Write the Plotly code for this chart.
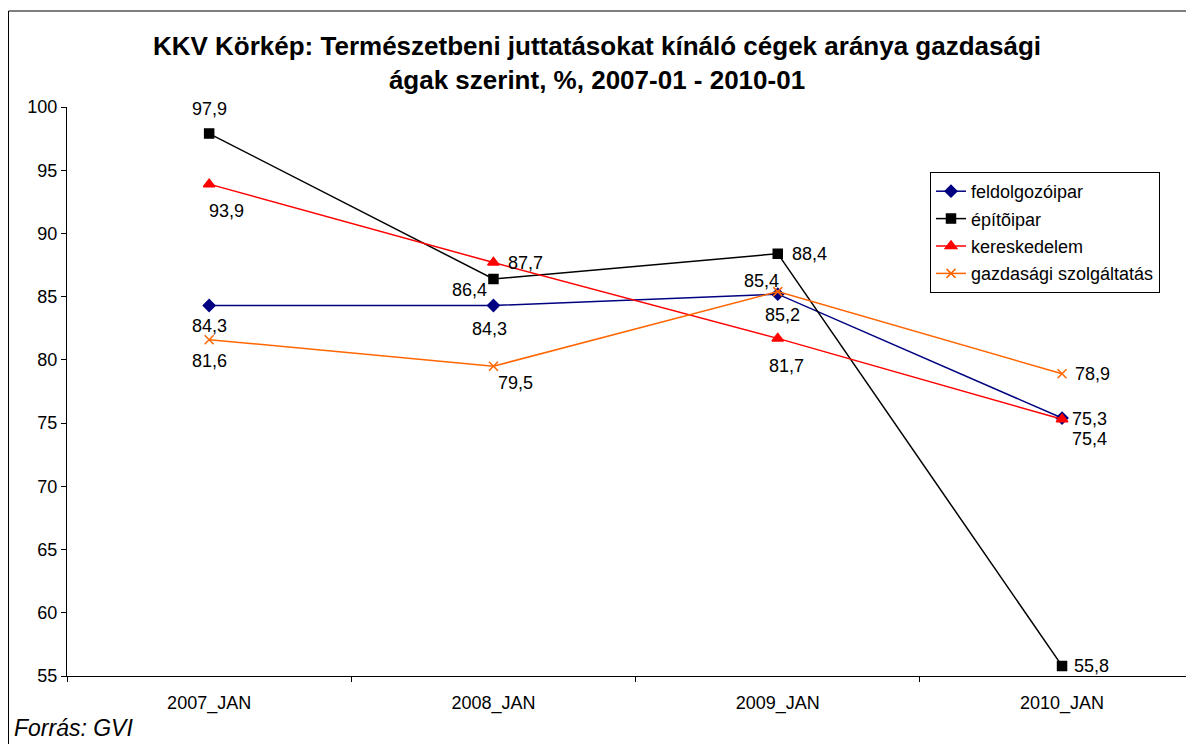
import plotly.graph_objects as go

categories = ["2007_JAN", "2008_JAN", "2009_JAN", "2010_JAN"]
feldolgozoipar = [84.3, 84.3, 85.2, 75.4]
epitoipar = [97.9, 86.4, 88.4, 55.8]
kereskedelem = [93.9, 87.7, 81.7, 75.3]
gazdasagi = [81.6, 79.5, 85.4, 78.9]
y_ticks = [55, 60, 65, 70, 75, 80, 85, 90, 95, 100]

series = [
    ("feldolgozóipar", feldolgozoipar, "#000080", "diamond", 9),
    ("építõipar", epitoipar, "#000000", "square", 9),
    ("kereskedelem", kereskedelem, "#FF0000", "triangle-up", 10),
    ("gazdasági szolgáltatás", gazdasagi, "#FF6600", "x-thin-open", 9),
]

# label offsets (px) per series per point
label_shifts = [
    [(0, -20), (-4, -23), (5, -21), (27, -21)],
    [(0, 25), (-24, -11), (32, 0), (29, 0)],
    [(17, -27), (32, 0), (9, -28), (27, 0)],
    [(0, -21), (22, -17), (-16, 11), (30, 0)],
]

FONT = "Liberation Sans, Arial, sans-serif"
# page has an 8px body margin; figure laid out in its own pixel space
W, H = 1186, 736
L, R, T, B = 59, 0, 99, 68
pw, ph = W - L - R, H - T - B

fig = go.Figure()
annotations = []
for (name, vals, color, sym, size), shifts in zip(series, label_shifts):
    fig.add_trace(go.Scatter(
        x=categories, y=vals, name=name, mode="lines+markers",
        line=dict(color=color, width=1.5),
        marker=dict(symbol=sym, size=size, color=color,
                    line=dict(color=color, width=1.5)),
        legendgroup=name,
    ))
    for c, v, (dx, dy) in zip(categories, vals, shifts):
        annotations.append(dict(
            x=c, y=v, xref="x", yref="y", text=f"{v:.1f}".replace(".", ","),
            showarrow=False, xshift=dx, yshift=dy,
            font=dict(family=FONT, size=18, color="#000000"),
        ))

annotations.append(dict(
    x=(4 - L) / pw, y=(H - B - 720) / ph, xref="paper", yref="paper",
    xanchor="left", yanchor="middle", text="<i>Forrás: GVI</i>",
    showarrow=False, font=dict(family=FONT, size=23, color="#000000"),
))

fig.update_layout(
    width=W, height=H,
    margin=dict(l=L, r=R, t=T, b=B),
    paper_bgcolor="white", plot_bgcolor="white",
    font=dict(family=FONT, size=18, color="#000000"),
    title=dict(
        text="<b>KKV Körkép: Természetbeni juttatásokat kínáló cégek aránya gazdasági<br>ágak szerint, %, 2007-01 - 2010-01</b>",
        x=(597 - 8) / W, xref="container", xanchor="center",
        y=1 - 47 / H, yref="container", yanchor="top",
        font=dict(family=FONT, size=26, color="#000000"),
    ),
    xaxis=dict(
        type="category", range=[-0.5, -0.5 + pw / 284.3],
        showgrid=False, showline=True, linecolor="#000000", linewidth=1,
        ticks="outside", tickson="boundaries", ticklen=5, tickcolor="#000000",
        tickfont=dict(size=18), zeroline=False, fixedrange=True,
        ticklabelstandoff=10,
    ),
    yaxis=dict(
        range=[55, 100], tickvals=y_ticks, showgrid=False, showline=True,
        linecolor="#000000", linewidth=1, ticks="outside", ticklen=5,
        tickcolor="#000000", tickfont=dict(size=18), zeroline=False,
    ),
    legend=dict(
        x=(922 - L) / pw, y=(H - B - 164) / ph, xanchor="left", yanchor="top",
        bordercolor="#000000", borderwidth=1, bgcolor="white",
        font=dict(size=18), tracegroupgap=1,
    ),
    showlegend=True,
    annotations=annotations,
    shapes=[dict(
        type="rect", xref="paper", yref="paper",
        x0=(0.5 - L) / pw, x1=(1210 - L) / pw,
        y0=(H - B - 760) / ph, y1=(H - B - 3) / ph,
        line=dict(color="#000000", width=1), fillcolor="rgba(0,0,0,0)",
    )],
)

fig.write_html("out.html")
